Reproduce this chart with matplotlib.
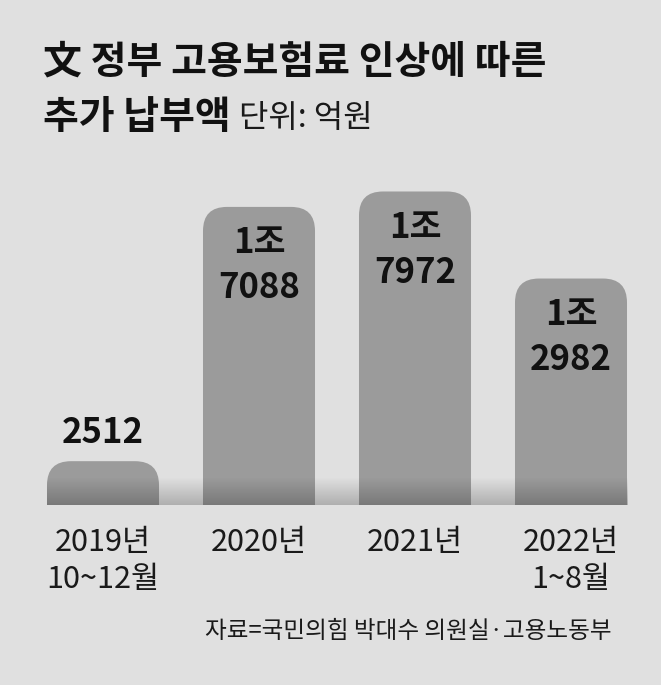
import matplotlib
matplotlib.use("Agg")
import matplotlib.pyplot as plt
from matplotlib.patches import FancyBboxPatch
import numpy as np

plt.rcParams['font.family'] = ['Noto Sans CJK KR', 'DejaVu Sans']

# data (unit: 억원)
categories = ["2019년\n10~12월", "2020년", "2021년", "2022년\n1~8월"]
values = [2512, 17088, 17972, 12982]
title_1 = "文 정부 고용보험료 인상에 따른"
title_2 = "추가 납부액"
unit = "단위: 억원"
source = "자료=국민의힘 박대수 의원실·고용노동부"

BG = "#e0e0e0"
BAR = "#9b9b9b"
TXT = "#111111"

W, H = 661, 685
fig = plt.figure(figsize=(W / 100, H / 100), dpi=100)
fig.patch.set_facecolor(BG)
ax = fig.add_axes([25 / W, 180 / H, 624 / W, 355 / H])
ax.set_facecolor("none")

x = np.arange(len(values))
bars = ax.bar(x, values, width=0.718, color=BAR)
ax.set_xlim(-0.5, len(values) - 0.5)
ax.set_ylim(0, 20350)

# pixels per data unit, used for the rounded tops and the shadow band
p0 = ax.transData.transform((0, 0))
p1 = ax.transData.transform((1, 1))
px_x, px_y = p1 - p0

r = 24  # corner radius in px
for b in bars:
    b.set_visible(False)
    bx, bw, bh = b.get_x(), b.get_width(), b.get_height()
    extra = 2 * r / px_y  # push the rounded bottom below the axis so it gets clipped
    patch = FancyBboxPatch((bx, -extra), bw, bh + extra,
                           boxstyle="round,pad=0,rounding_size=%f" % (r / px_x),
                           mutation_aspect=px_x / px_y,
                           facecolor=BAR, edgecolor="none", zorder=2)
    ax.add_patch(patch)

# dark band at the bottom
band_h = 27 / px_y
grad = np.zeros((60, 1, 4))
grad[:, 0, 3] = np.linspace(0.22, 0.0, 60)
left = bars[0].get_x()
right = bars[-1].get_x() + bars[-1].get_width()
ax.imshow(grad, extent=(left, right, 0, band_h), origin="lower",
          aspect="auto", interpolation="bilinear", zorder=3)
ax.set_xlim(-0.5, len(values) - 0.5)
ax.set_ylim(0, 20350)

# value labels
for b, v in zip(bars, values):
    cx = b.get_x() + b.get_width() / 2
    if v >= 10000:
        ax.annotate("%d조" % (v // 10000), (cx, v), xytext=(0, -36),
                    textcoords="offset pixels", ha="center", va="center",
                    fontsize=25, fontweight="bold", color=TXT, zorder=4)
        ax.annotate("%04d" % (v % 10000), (cx, v), xytext=(0, -81),
                    textcoords="offset pixels", ha="center", va="center",
                    fontsize=25, fontweight="bold", color=TXT, zorder=4)
    else:
        ax.annotate("%d" % v, (cx, v), xytext=(0, 29),
                    textcoords="offset pixels", ha="center", va="center",
                    fontsize=25, fontweight="bold", color=TXT, zorder=4)

ax.set_xticks(x, categories)
ax.tick_params(axis="x", length=0, pad=16, labelsize=22, labelcolor="#1a1a1a")
for lbl in ax.get_xticklabels():
    lbl.set_linespacing(1.25)
ax.set_yticks([])
for s in ax.spines.values():
    s.set_visible(False)

# titles
t1 = fig.text(43 / W, 1 - 62 / H, title_1, ha="left", va="center",
              fontsize=28, fontweight="bold", color=TXT)
t2 = fig.text(43 / W, 1 - 118 / H, title_2, ha="left", va="center",
              fontsize=28, fontweight="bold", color=TXT)
ax.annotate(unit, xy=(1, 0.5), xycoords=t2, xytext=(8, 0),
            textcoords="offset pixels", ha="left", va="center",
            fontsize=23, color="#1a1a1a", annotation_clip=False)

fig.text(612 / W, 1 - 632 / H, source, ha="right", va="center",
         fontsize=17, color="#1a1a1a")

fig.savefig("out.png", dpi=100, facecolor=BG)
